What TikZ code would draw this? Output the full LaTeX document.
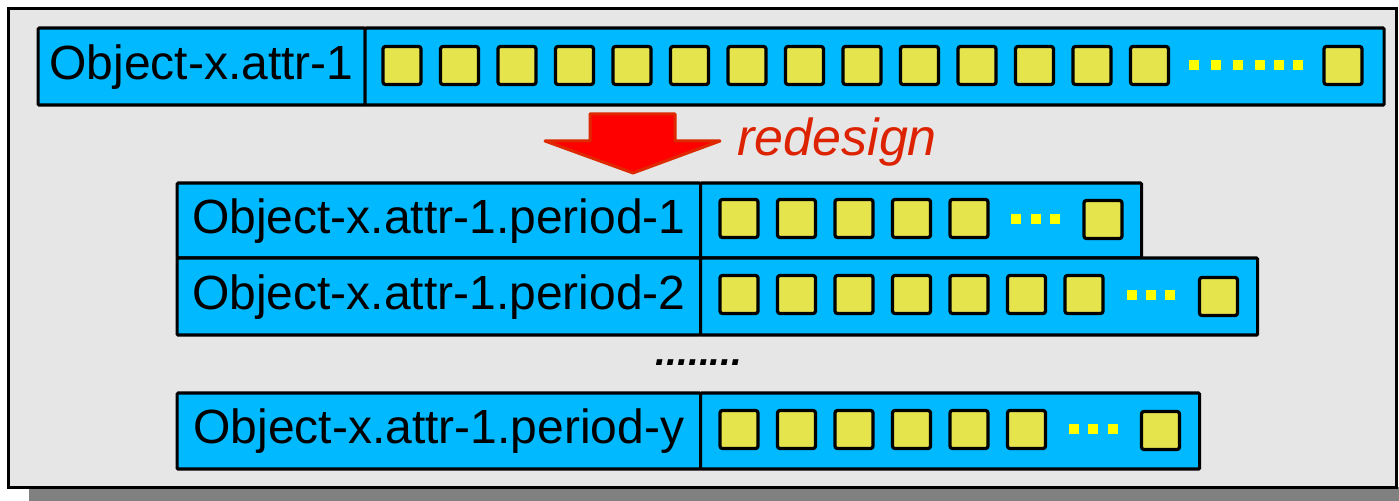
\documentclass[tikz,border=0pt]{standalone}
\usepackage{fontspec}
\setmainfont{Liberation Sans}
\definecolor{frameg}{RGB}{230,230,230}
\definecolor{shadowg}{RGB}{128,128,128}
\definecolor{barblue}{RGB}{0,185,255}
\definecolor{cellyel}{RGB}{230,228,77}
\definecolor{dotyel}{RGB}{255,255,0}
\definecolor{arrowred}{RGB}{255,0,0}
\definecolor{arrowedge}{RGB}{222,40,0}
\definecolor{textred}{RGB}{221,34,0}
\begin{document}
\begin{tikzpicture}[x=0.5pt,y=-0.5pt,
  barbox/.style={draw=black, fill=barblue, line width=1.6pt, rounded corners=0.6pt,
                 inner sep=0pt, anchor=north west, font=\fontsize{24}{28}\selectfont},
  cell/.style={draw=black, fill=cellyel, line width=1.6pt, rounded corners=1.2pt,
               minimum size=19pt, inner sep=0pt},
  gapdot/.style={fill=dotyel, minimum size=5pt, inner sep=0pt},
]
\useasboundingbox (0,0) rectangle (1399,501);

% frame with its drop shadow
\fill[shadowg] (29,487) rectangle (1399,501);
\draw[fill=frameg, line width=1.5pt] (8.5,8.5) rectangle (1396.5,487.5);

% original attribute row
\node[barbox, minimum width=163.5pt, minimum height=38.5pt] (lab0) at (36.5,26.5) {Object-x.attr-1};
\node[barbox, minimum width=509.5pt, minimum height=38.5pt] (dat0) at (363.5,26.5) {};
\foreach \i in {0,...,13}
  \node[cell] (c0-\i) at ({402+57.5*\i},65.5) {};
\foreach \x [count=\k] in {1194,1216,1238,1260,1279,1298}
  \node[gapdot] (d0-\k) at (\x,65.5) {};
\node[cell] (c0-last) at (1343,65.5) {};

% redesign arrow and label
\draw[fill=arrowred, draw=arrowedge, line width=1.5pt, line join=round]
  (590,114) -- (675,114) -- (675,141) -- (720,141) -- (633,173) -- (545,141) -- (590,141) -- cycle;
\node[anchor=base west, inner sep=0pt, text=textred,
      font=\fontsize{26}{30}\selectfont\itshape] (redesign) at (737,156) {redesign};

% period row 1
\node[barbox, minimum width=261.75pt, minimum height=37.5pt] (lab1) at (175.5,181.5) {Object-x.attr-1.period-1};
\node[barbox, minimum width=220.5pt, minimum height=37.5pt] (dat1) at (699,181.5) {};
\foreach \i in {0,...,4}
  \node[cell] (c1-\i) at ({739+57.5*\i},218.5) {};
\foreach \x [count=\k] in {1016,1036,1055}
  \node[gapdot] (d1-\k) at (\x,219) {};
\node[cell] (c1-last) at (1103,219.5) {};

% period row 2
\node[barbox, minimum width=261.75pt, minimum height=38.5pt] (lab2) at (175.5,256.5) {Object-x.attr-1.period-2};
\node[barbox, minimum width=278.5pt, minimum height=38.5pt] (dat2) at (699,256.5) {};
\foreach \i in {0,...,6}
  \node[cell] (c2-\i) at ({739+57.5*\i},294.5) {};
\foreach \x [count=\k] in {1132,1151,1170}
  \node[gapdot] (d2-\k) at (\x,295) {};
\node[cell] (c2-last) at (1218.5,296.5) {};

% further periods
\node[anchor=base, inner sep=0pt, font=\fontsize{19.5}{24}\selectfont\bfseries\itshape] (more) at (699,366) {........};

% period row y
\node[barbox, minimum width=261.75pt, minimum height=38pt] (lab3) at (175.5,391.5) {Object-x.attr-1.period-y};
\node[barbox, minimum width=249.5pt, minimum height=38pt] (dat3) at (699,391.5) {};
\foreach \i in {0,...,5}
  \node[cell] (c3-\i) at ({739+57.5*\i},429.5) {};
\foreach \x [count=\k] in {1074,1093,1113}
  \node[gapdot] (d3-\k) at (\x,429) {};
\node[cell] (c3-last) at (1160.5,430.5) {};
\end{tikzpicture}
\end{document}
